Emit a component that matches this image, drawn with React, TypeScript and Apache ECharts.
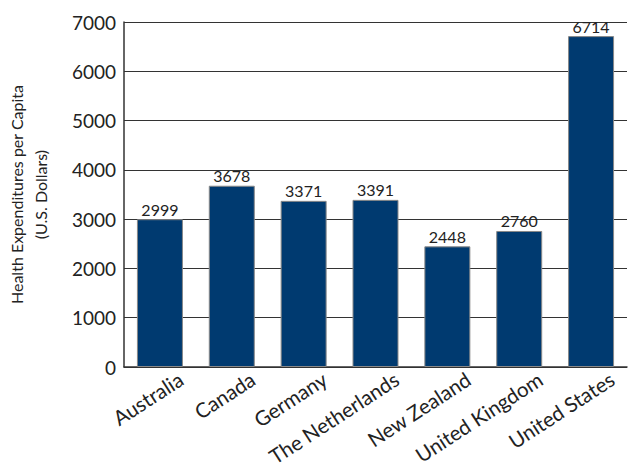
import React, { useEffect, useRef } from "react";
import * as echarts from "echarts";

const categories = ["Australia", "Canada", "Germany", "The Netherlands", "New Zealand", "United Kingdom", "United States"];
const values = [2999, 3678, 3371, 3391, 2448, 2760, 6714];
const yTicks = [0, 1000, 2000, 3000, 4000, 5000, 6000, 7000];

export default function App() {
  const ref = useRef<HTMLDivElement>(null);
  useEffect(() => {
    const chart = echarts.init(ref.current!, null, { renderer: "svg" });
    const font = "Lato";
    chart.setOption({
      animation: false,
      textStyle: { fontFamily: font },
      grid: [
        { left: 124, width: 503, top: 22, bottom: 108, outerBoundsMode: "none", containLabel: false },
        { left: 145, width: 503, top: 22, bottom: 108, outerBoundsMode: "none", containLabel: false },
      ],
      xAxis: [
        {
          type: "category",
          gridIndex: 0,
          data: categories,
          axisLine: { lineStyle: { color: "#333", width: 1.5 } },
          axisTick: { inside: true, length: 8, lineStyle: { color: "#333" } },
          axisLabel: { show: false },
        },
        {
          type: "category",
          gridIndex: 1,
          data: categories,
          axisLine: { show: false },
          axisTick: { show: false },
          axisLabel: {
            rotate: 33,
            fontSize: 20.5,
            color: "#222",
            margin: 10,
            interval: 0,
            fontFamily: font,
          },
        },
      ],
      yAxis: [
        {
          type: "value",
          gridIndex: 0,
          min: yTicks[0],
          max: yTicks[yTicks.length - 1],
          interval: 1000,
          name: "Health Expenditures per Capita\n(U.S. Dollars)",
          nameLocation: "middle",
          nameGap: 72,
          nameTextStyle: { fontSize: 16, color: "#222", lineHeight: 24, fontFamily: font },
          axisLine: { show: true, lineStyle: { color: "#333", width: 1.5 } },
          axisTick: { show: false },
          axisLabel: { fontSize: 19, color: "#222", margin: 8, formatter: (v: number) => String(v) },
          splitLine: { lineStyle: { color: "#333", width: 1 } },
        },
        {
          type: "value",
          gridIndex: 1,
          min: 0,
          max: 7000,
          show: false,
          splitLine: { show: false },
        },
      ],
      series: [
        {
          type: "bar",
          xAxisIndex: 0,
          yAxisIndex: 0,
          data: values,
          barWidth: "64%",
          itemStyle: { color: "#003a70", borderColor: "#888", borderWidth: 1 },
          label: { show: true, position: "top", distance: 2, fontSize: 16, color: "#222" },
        },
      ],
    });
    return () => chart.dispose();
  }, []);
  return <div ref={ref} style={{ width: 628, height: 475, position: "absolute", left: 0, top: 0 }} />;
}
